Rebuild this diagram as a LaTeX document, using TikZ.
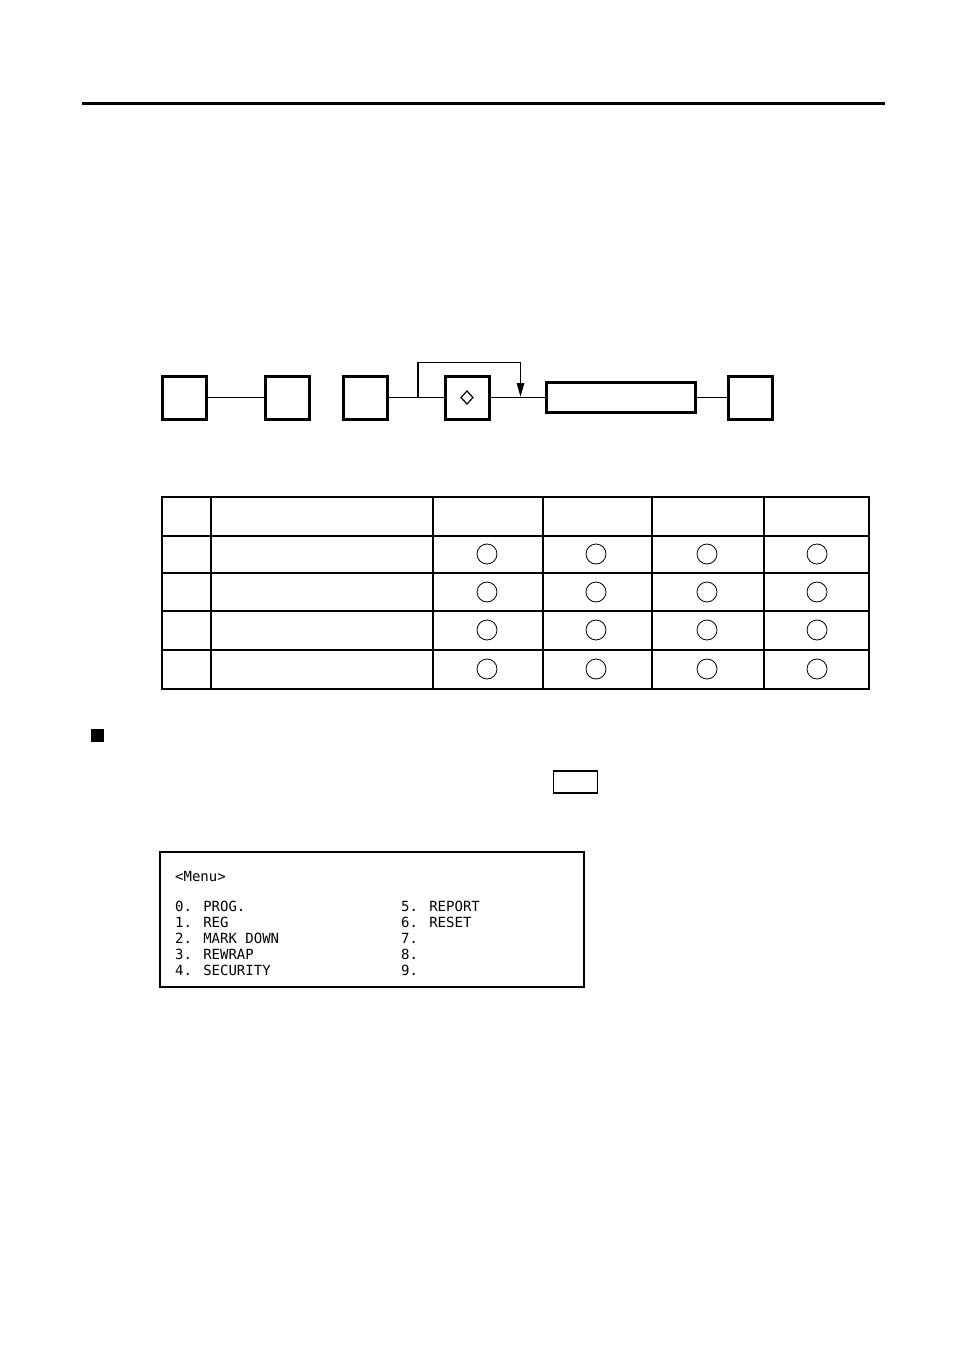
\documentclass[tikz,border=0pt]{standalone}
\usepackage{fontspec}
\newfontfamily\menufont{DejaVu Sans Mono}
\begin{document}
\begin{tikzpicture}[x=1pt,y=-1pt,
  keybox/.style={draw,line width=3pt,minimum width=44pt,minimum height=43pt,inner sep=0pt,outer sep=0pt},
  longbox/.style={draw,line width=2.6pt,minimum width=149pt,minimum height=30pt,inner sep=0pt,outer sep=0pt},
  conn/.style={line width=1.8pt},
  tline/.style={line width=1.4pt},
  tthick/.style={line width=2.6pt},
  mark/.style={},
  okmark/.style={draw,circle,line width=0.8pt,minimum size=20pt,inner sep=0pt},
  menutext/.style={anchor=base west,inner sep=0pt,font=\menufont\fontsize{14pt}{16pt}\selectfont}
]
\useasboundingbox (0,0) rectangle (954,1348);
\fill[white] (0,0) rectangle (954,1348);
% top rule
\draw[line width=3pt] (82,104) -- (885,104);

% flow diagram
\node[keybox] (b1) at (184.5,397.5) {};
\node[keybox] (b2) at (287.5,397.5) {};
\node[keybox] (b3) at (365,397.5) {};
\node[keybox] (b4) at (467,397.5) {};
\node[longbox] (r) at (621,397.5) {};
\node[keybox] (b5) at (750.5,397.5) {};
\draw[line width=1.2pt] (467,391) -- (473,397.5) -- (467,404) -- (461,397.5) -- cycle;
\draw[conn] (b1.east) -- (b2.west);
\draw[conn] (b3.east) -- (b4.west);
\draw[conn] (b4.east) -- (r.west);
\draw[conn] (r.east) -- (b5.west);
\coordinate (lpa) at (418,397.5);
\coordinate (lpb) at (520.5,362.5);
\coordinate (lpc) at (520.5,396.5);
\draw[conn] (lpa) |- (lpb);
\draw[line width=1.4pt] (lpb) -- (520.5,385);
\fill (516.5,383) -- (524.5,383) -- (lpc) -- cycle;

% table
\draw[tline] (162,497) rectangle (869,689);
\foreach \x in {211,433,652}{\draw[tline] (\x,497) -- (\x,689);}
\foreach \x in {543,764}{\draw[line width=2pt] (\x,497) -- (\x,689);}
\draw[tthick] (162,536) -- (869,536);
\draw[tline] (162,573) -- (869,573);
\draw[tthick] (162,611) -- (869,611);
\draw[tline] (162,650) -- (869,650);
\foreach \yy/\r in {554/1,592/2,630/3,669/4}{
  \foreach \xx/\c in {487/1,596/2,707/3,817/4}{
    \node[okmark] (c\r\c) at (\xx,\yy) {};
  }
}

% black square and key box
\fill (91,729) rectangle (104,742);
\draw[line width=1.4pt] (553.5,771) rectangle (597.5,793);

% menu box
\draw[line width=2pt] (160,852) rectangle (584,987);
\node[menutext] (m0) at (175,881) {<Menu>};
\node[menutext] (l0) at (175,911) {0. PROG.};
\node[menutext] (l1) at (175,927) {1. REG};
\node[menutext] (l2) at (175,943) {2. MARK DOWN};
\node[menutext] (l3) at (175,959) {3. REWRAP};
\node[menutext] (l4) at (175,975) {4. SECURITY};
\node[menutext] (l5) at (401,911) {5. REPORT};
\node[menutext] (l6) at (401,927) {6. RESET};
\node[menutext] (l7) at (401,943) {7.};
\node[menutext] (l8) at (401,959) {8.};
\node[menutext] (l9) at (401,975) {9.};
\end{tikzpicture}
\end{document}
